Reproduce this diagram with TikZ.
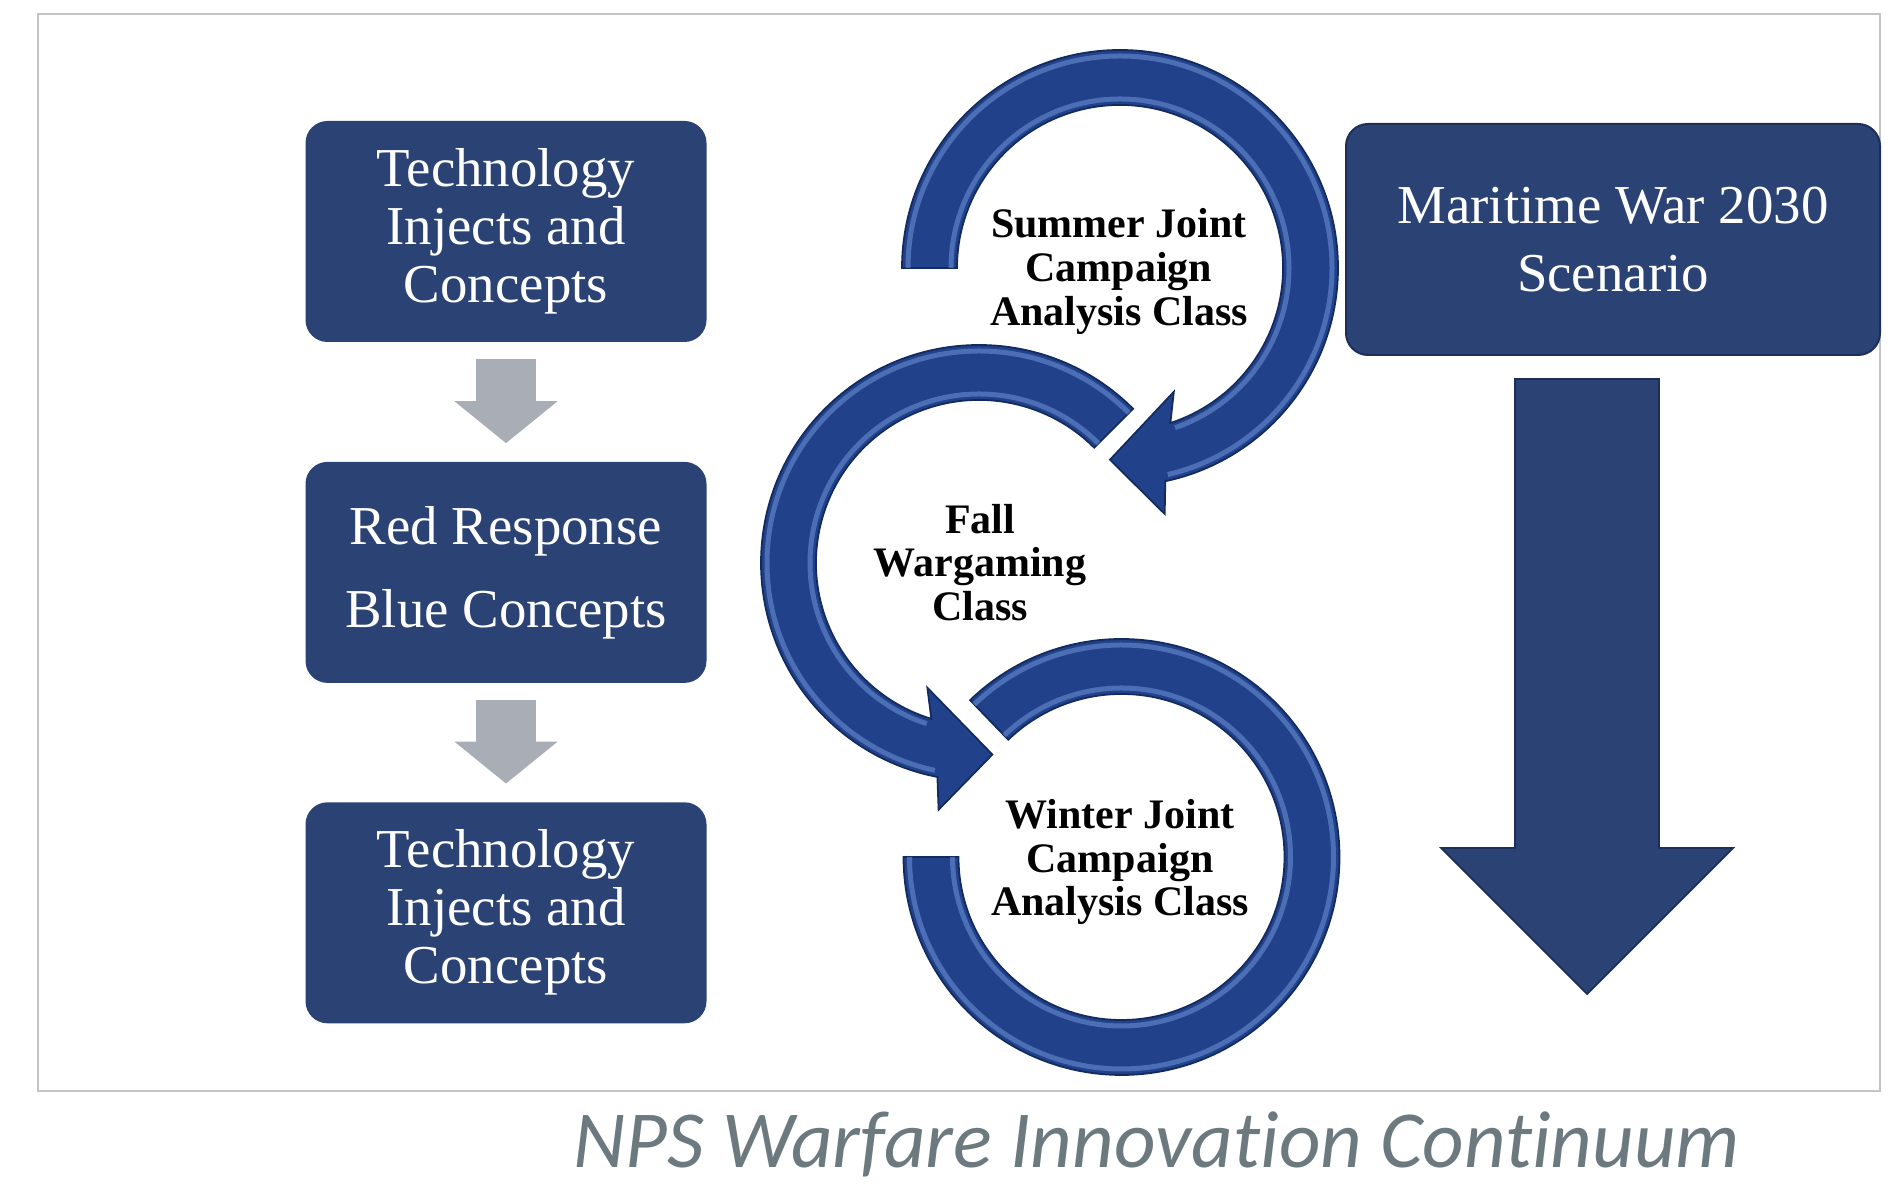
\documentclass[tikz,border=0pt]{standalone}
\usepackage{fontspec}
\setmainfont{Liberation Serif}
\newfontfamily\captionfont[Ligatures = NoCommon]{Carlito}
\usepackage{tikz}
\usetikzlibrary{arrows.meta}
\usetikzlibrary{positioning}
\usetikzlibrary{calc}
\definecolor{navy}{HTML}{2B4274}
\definecolor{navydark}{HTML}{1D2F57}
\definecolor{ringblue}{HTML}{21428A}
\definecolor{ringdark}{HTML}{132A5E}
\definecolor{ringlight}{HTML}{6F93DA}
\definecolor{flowgray}{HTML}{A9ADB6}
\definecolor{framegray}{HTML}{C4C4C4}
\definecolor{captiongray}{HTML}{6C7A80}
\tikzset{stage/.style = {fill = navy, text = white, rounded corners = 0.22cm, inner sep = 0,
    minimum width = 4.01cm, minimum height = 2.21cm, align = center}}
\tikzset{flow/.style = {draw = flowgray, line width = 0.6cm, -{Triangle[length = 0.42cm, width = 1.01cm]},
    shorten < = 0.16cm, shorten > = 0.18cm}}
\tikzset{ring/.style = {fill = ringblue, draw = ringdark, line width = 0.5pt}}
\tikzset{bevel/.style = {draw = ringlight, line width = 0.05cm, opacity = 0.55}}
\tikzset{ringtext/.style = {align = center, font = \bfseries\fontsize{11.95}{12.4}\selectfont}}

\begin{document}
\begin{tikzpicture}
    \useasboundingbox (0, 0) rectangle (19.02, 11.84);
    \draw[draw = framegray, line width = 0.02cm] (0.38, 0.93) rectangle (18.80, 11.70);

    % left column
    \node[stage, font = \fontsize{15.6}{16.5}\selectfont] (tech1) at (5.06, 9.525) {Technology\\Injects and\\Concepts};
    \node[stage, font = \fontsize{15.6}{23.6}\selectfont, below = 1.185cm of tech1] (redblue) {Red Response\\Blue Concepts};
    \node[stage, font = \fontsize{15.6}{16.5}\selectfont, below = 1.18cm of redblue] (tech2) {Technology\\Injects and\\Concepts};
    \draw[flow] (tech1) -- (redblue);
    \draw[flow] (redblue) -- (tech2);

    % circular arrows
    \coordinate (c1) at (11.20, 9.16);
    \coordinate (c2) at (9.79, 6.21);
    \coordinate (c3) at (11.215, 3.27);

    \filldraw[ring] (c1) ++(180:2.18) arc[start angle = 180, end angle = -78, radius = 2.18]
        -- ($(c1) + (-79.7:2.50)$) -- ($(c1) + (-93:1.92)$) -- ($(c1) + (-66.5:1.35)$) -- ($(c1) + (-72:1.63)$)
        arc[start angle = -72, end angle = 180, radius = 1.63] -- cycle;
    \draw[bevel] (c1) ++(180:2.12) arc[start angle = 180, end angle = -77, radius = 2.12];
    \draw[bevel] (c1) ++(180:1.69) arc[start angle = 180, end angle = -71, radius = 1.69];

    \filldraw[ring] (c2) ++(45:2.18) arc[start angle = 45, end angle = 259, radius = 2.18]
        -- ($(c2) + (260.7:2.50)$) -- ($(c2) + (274:1.92)$) -- ($(c2) + (247.5:1.35)$) -- ($(c2) + (253:1.63)$)
        arc[start angle = 253, end angle = 45, radius = 1.63] -- cycle;
    \draw[bevel] (c2) ++(45:2.12) arc[start angle = 45, end angle = 258, radius = 2.12];
    \draw[bevel] (c2) ++(45:1.69) arc[start angle = 45, end angle = 252, radius = 1.69];

    \filldraw[ring] (c3) ++(134:2.18) arc[start angle = 134, end angle = -180, radius = 2.18]
        -- ($(c3) + (180:1.63)$) arc[start angle = -180, end angle = 134, radius = 1.63] -- cycle;
    \draw[bevel] (c3) ++(134:2.12) arc[start angle = 134, end angle = -180, radius = 2.12];
    \draw[bevel] (c3) ++(134:1.69) arc[start angle = 134, end angle = -180, radius = 1.69];

    \node[ringtext] (summer) at (11.19, 9.125) {Summer Joint\\Campaign\\Analysis Class};
    \node[ringtext] (fall) at (9.80, 6.215) {Fall\\Wargaming\\Class};
    \node[ringtext] (winter) at (11.20, 3.22) {Winter Joint\\Campaign\\Analysis Class};

    % scenario and big arrow
    \node[stage, draw = navydark, line width = 0.02cm, minimum width = 5.34cm, minimum height = 2.31cm,
        font = \fontsize{15.6}{19.35}\selectfont] (scenario) at (16.13, 9.445) {Maritime War 2030\\Scenario};
    \filldraw[fill = navy, draw = navydark, line width = 0.5pt] (15.15, 8.05) -- (16.59, 8.05) -- (16.59, 3.36)
        -- (17.33, 3.36) -- (15.87, 1.90) -- (14.41, 3.36) -- (15.15, 3.36) -- cycle;

    \node[anchor = base, text = captiongray, font = \captionfont\itshape\fontsize{23.05}{28}\selectfont] (title)
        at (11.565, 0.16) {NPS Warfare Innovation Continuum};
\end{tikzpicture}
\end{document}
